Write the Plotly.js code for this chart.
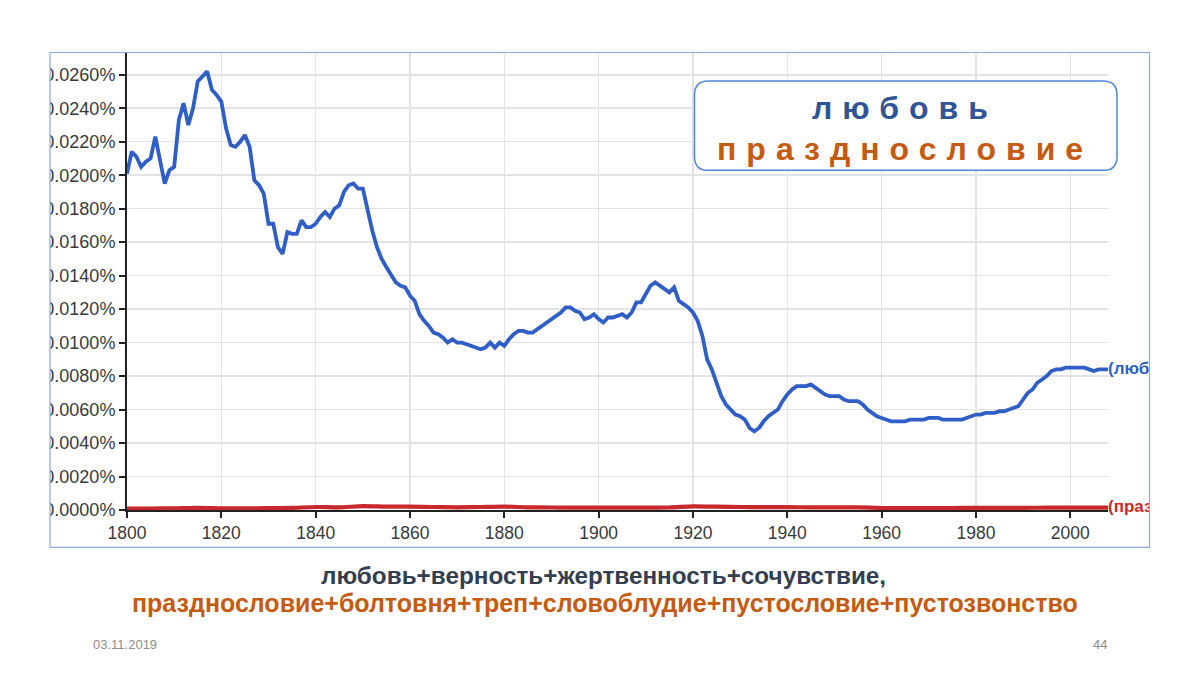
<!DOCTYPE html>
<html>
<head>
<meta charset="utf-8">
<script src="https://cdn.plot.ly/plotly-3.0.1.min.js"></script>
<style>
  html, body { margin: 0; padding: 0; background: #ffffff; }
  #chart { width: 1200px; height: 675px; }
</style>
</head>
<body>
<div id="chart"></div>
<script>
// ---------------- data (in percent) ----------------
const years = [];
for (let y = 1800; y <= 2008; y++) years.push(y);

const lyubov = [
  0.0201, 0.0214, 0.0211, 0.0205, 0.0208, 0.0210, 0.0223, 0.0209, 0.0195, 0.0203,
  0.0205, 0.0233, 0.0243, 0.0230, 0.0240, 0.0256, 0.0259, 0.0262, 0.0251, 0.0248,
  0.0244, 0.0228, 0.0218, 0.0217, 0.0220, 0.0224, 0.0217, 0.0197, 0.0194, 0.0189,
  0.0171, 0.0171, 0.0157, 0.0153, 0.0166, 0.0165, 0.0165, 0.0173, 0.0169, 0.0169,
  0.0171, 0.0175, 0.0178, 0.0175, 0.0180, 0.0182, 0.0190, 0.0194, 0.0195, 0.0192,
  0.0192, 0.0179, 0.0167, 0.0157, 0.0150, 0.0145, 0.0140, 0.0136, 0.0134, 0.0133,
  0.0128, 0.0125, 0.0117, 0.0113, 0.0110, 0.0106, 0.0105, 0.0103, 0.0100, 0.0102,
  0.0100, 0.0100, 0.0099, 0.0098, 0.0097, 0.0096, 0.0097, 0.0100, 0.0097, 0.0100,
  0.0098, 0.0102, 0.0105, 0.0107, 0.0107, 0.0106, 0.0106, 0.0108, 0.0110, 0.0112,
  0.0114, 0.0116, 0.0118, 0.0121, 0.0121, 0.0119, 0.0118, 0.0114, 0.0115, 0.0117,
  0.0114, 0.0112, 0.0115, 0.0115, 0.0116, 0.0117, 0.0115, 0.0118, 0.0124, 0.0124,
  0.0129, 0.0134, 0.0136, 0.0134, 0.0132, 0.0130, 0.0133, 0.0125, 0.0123, 0.0121,
  0.0118, 0.0113, 0.0104, 0.0090, 0.0084, 0.0076, 0.0068, 0.0063, 0.0060, 0.0057,
  0.0056, 0.0054, 0.0049, 0.0047, 0.0049, 0.0053, 0.0056, 0.0058, 0.0060, 0.0065,
  0.0069, 0.0072, 0.0074, 0.0074, 0.0074, 0.0075, 0.0073, 0.0071, 0.0069, 0.0068,
  0.0068, 0.0068, 0.0066, 0.0065, 0.0065, 0.0065, 0.0063, 0.0060, 0.0058, 0.0056,
  0.0055, 0.0054, 0.0053, 0.0053, 0.0053, 0.0053, 0.0054, 0.0054, 0.0054, 0.0054,
  0.0055, 0.0055, 0.0055, 0.0054, 0.0054, 0.0054, 0.0054, 0.0054, 0.0055, 0.0056,
  0.0057, 0.0057, 0.0058, 0.0058, 0.0058, 0.0059, 0.0059, 0.0060, 0.0061, 0.0062,
  0.0066, 0.0070, 0.0072, 0.0076, 0.0078, 0.0080, 0.0083, 0.0084, 0.0084, 0.0085,
  0.0085, 0.0085, 0.0085, 0.0085, 0.0084, 0.0083, 0.0084, 0.0084, 0.0084
];

const prazdnYears = [1800,1805,1810,1815,1820,1825,1830,1835,1840,1845,1850,1855,1860,1865,
  1870,1875,1880,1885,1890,1895,1900,1905,1910,1915,1920,1925,1930,1935,1940,1945,1950,
  1955,1960,1965,1970,1975,1980,1985,1990,1995,2000,2005,2008];
const prazdn = [0.00008,0.00009,0.00010,0.00013,0.00010,0.00010,0.00011,0.00013,0.00018,
  0.00016,0.00023,0.00020,0.00020,0.00018,0.00016,0.00018,0.00020,0.00016,0.00015,0.00014,
  0.00014,0.00014,0.00014,0.00015,0.00022,0.00020,0.00018,0.00017,0.00017,0.00016,0.00016,
  0.00016,0.00012,0.00012,0.00012,0.00012,0.00013,0.00013,0.00013,0.00014,0.00014,0.00014,0.00014];

const xTicks = [1800,1820,1840,1860,1880,1900,1920,1940,1960,1980,2000];
const yTicks = [0,0.002,0.004,0.006,0.008,0.010,0.012,0.014,0.016,0.018,0.020,0.022,0.024,0.026];

const seriesLabels = ['(любовь)', '(празднословие)'];
const boxTitle1 = 'любовь';
const boxTitle2 = 'празднословие';
const caption1 = 'любовь+верность+жертвенность+сочувствие,';
const caption2 = 'празднословие+болтовня+треп+словоблудие+пустословие+пустозвонство';
const dateText = '03.11.2019';
const pageText = '44';

// ---------------- layout geometry ----------------
const L = 127, T = 53, W = 981, H = 457.5;
const px2x = p => (p - L) / W;
const py2y = p => 1 - (p - T) / H;

const BLUE = '#2f5fc6';
const RED = '#c8292c';
const FONT = 'Liberation Sans, Arial, sans-serif';

function roundRect(x0, y0, x1, y1, r) {
  const rx = r / W, ry = r / H;
  const X0 = px2x(x0), X1 = px2x(x1), Y0 = py2y(y0), Y1 = py2y(y1);
  return `M${X0+rx},${Y0} L${X1-rx},${Y0} Q${X1},${Y0} ${X1},${Y0-ry} ` +
         `L${X1},${Y1+ry} Q${X1},${Y1} ${X1-rx},${Y1} L${X0+rx},${Y1} ` +
         `Q${X0},${Y1} ${X0},${Y1+ry} L${X0},${Y0-ry} Q${X0},${Y0} ${X0+rx},${Y0} Z`;
}

const traces = [
  {
    x: prazdnYears, y: prazdn, type: 'scatter', mode: 'lines',
    line: { color: RED, width: 4.2, shape: 'spline', smoothing: 0.6 },
    cliponaxis: false, hoverinfo: 'skip', showlegend: false
  },
  {
    x: years, y: lyubov, type: 'scatter', mode: 'lines',
    line: { color: BLUE, width: 3.8 },
    cliponaxis: false, hoverinfo: 'skip', showlegend: false
  },
  {
    x: [years[years.length - 1], prazdnYears[prazdnYears.length - 1]],
    y: [lyubov[lyubov.length - 1], prazdn[prazdn.length - 1]],
    type: 'scatter', mode: 'text',
    text: seriesLabels, textposition: 'middle right',
    textfont: { family: FONT, size: 17, weight: 'bold', color: [BLUE, RED] },
    cliponaxis: false, hoverinfo: 'skip', showlegend: false
  }
];

const layout = {
  width: 1200, height: 675,
  margin: { l: L, r: 1200 - L - W, t: T, b: 675 - T - H, pad: 0 },
  paper_bgcolor: '#ffffff', plot_bgcolor: '#ffffff',
  showlegend: false,
  font: { family: FONT, color: '#3a3a3a' },
  xaxis: {
    range: [1800, 2008], tickvals: xTicks, ticktext: xTicks.map(String),
    showgrid: true, gridcolor: '#e3e3e3', gridwidth: 1.5,
    showline: true, linecolor: '#222222', linewidth: 2,
    ticks: 'outside', ticklen: 6, tickwidth: 2, tickcolor: '#222222',
    tickfont: { family: FONT, size: 17.5, color: '#3a3a3a' },
    zeroline: false, layer: 'below traces', fixedrange: true
  },
  yaxis: {
    range: [0, 0.0273], tickvals: yTicks, ticktext: yTicks.map(v => v.toFixed(4) + '%'),
    showgrid: true, gridcolor: '#e3e3e3', gridwidth: 1.5,
    showline: true, linecolor: '#222222', linewidth: 2,
    ticks: 'outside', ticklen: 6, tickwidth: 2, tickcolor: '#222222',
    tickfont: { family: FONT, size: 18, color: '#3a3a3a' },
    zeroline: false, layer: 'below traces', fixedrange: true
  },
  shapes: [
    // white margins that crop the screenshot of the chart
    { type: 'rect', xref: 'paper', yref: 'paper', layer: 'above',
      x0: px2x(-5), x1: px2x(50), y0: py2y(-5), y1: py2y(680),
      fillcolor: '#ffffff', line: { width: 0 } },
    { type: 'rect', xref: 'paper', yref: 'paper', layer: 'above',
      x0: px2x(1150), x1: px2x(1205), y0: py2y(-5), y1: py2y(680),
      fillcolor: '#ffffff', line: { width: 0 } },
    // picture frame
    { type: 'rect', xref: 'paper', yref: 'paper', layer: 'above',
      x0: px2x(50), x1: px2x(1149.5), y0: py2y(52.5), y1: py2y(548),
      fillcolor: 'rgba(0,0,0,0)', line: { color: '#8fa9d6', width: 1.2 } },
    // rounded title box
    { type: 'path', xref: 'paper', yref: 'paper', layer: 'above',
      path: roundRect(694.5, 81, 1117, 170.5, 14),
      fillcolor: '#ffffff', line: { color: '#4f87d6', width: 1.5 } }
  ],
  annotations: [
    { text: boxTitle1, xref: 'paper', yref: 'paper', x: px2x(905), y: py2y(108.5),
      xanchor: 'center', yanchor: 'middle', showarrow: false,
      font: { family: FONT, size: 32, weight: 'bold', color: '#2f5597' } },
    { text: boxTitle2, xref: 'paper', yref: 'paper', x: px2x(905), y: py2y(149.5),
      xanchor: 'center', yanchor: 'middle', showarrow: false,
      font: { family: FONT, size: 32, weight: 'bold', color: '#c55a11' } },
    { text: caption1, xref: 'paper', yref: 'paper', x: px2x(603), y: py2y(576),
      xanchor: 'center', yanchor: 'middle', showarrow: false,
      font: { family: FONT, size: 24.3, weight: 'bold', color: '#333f50' } },
    { text: caption2, xref: 'paper', yref: 'paper', x: px2x(605), y: py2y(604),
      xanchor: 'center', yanchor: 'middle', showarrow: false,
      font: { family: FONT, size: 25, weight: 'bold', color: '#c55a11' } },
    { text: dateText, xref: 'paper', yref: 'paper', x: px2x(91), y: py2y(645),
      xanchor: 'left', yanchor: 'middle', showarrow: false,
      font: { family: FONT, size: 13, color: '#8c8c8c' } },
    { text: pageText, xref: 'paper', yref: 'paper', x: px2x(1109), y: py2y(645),
      xanchor: 'right', yanchor: 'middle', showarrow: false,
      font: { family: FONT, size: 13, color: '#8c8c8c' } }
  ]
};

Plotly.newPlot('chart', traces, layout, { staticPlot: true, displayModeBar: false }).then(() => {
  // spaced-out letters of the title box, as in the slide
  [0, 1].forEach(i => {
    const t = document.querySelector(`g.annotation[data-index="${i}"] text`);
    if (t) t.setAttribute('letter-spacing', '10px');
  });
});
</script>
</body>
</html>
